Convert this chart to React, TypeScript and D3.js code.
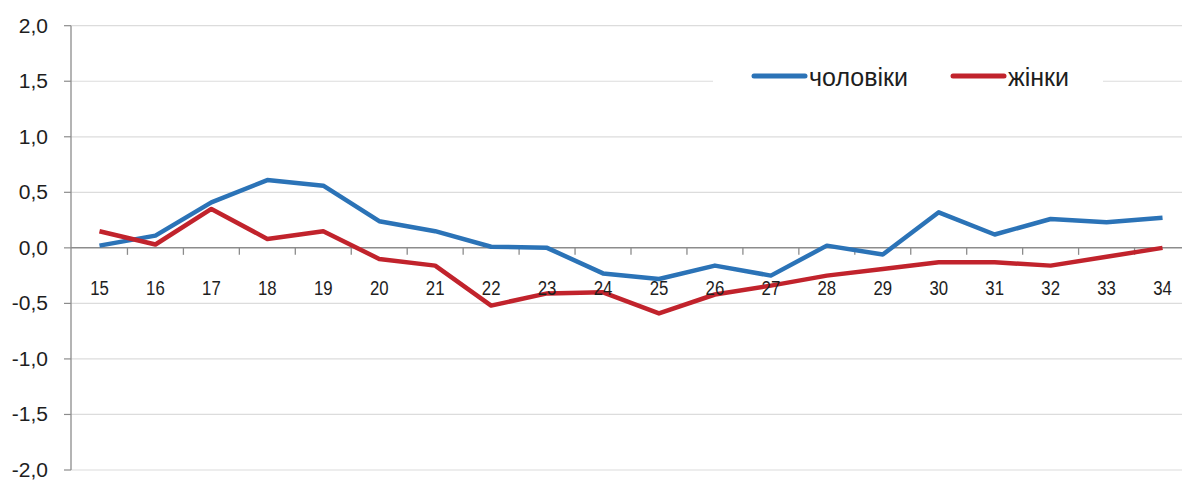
import React from "react";
import * as d3 from "d3";

const categories = ["15","16","17","18","19","20","21","22","23","24","25","26","27","28","29","30","31","32","33","34"];
const men = [0.02,0.11,0.41,0.61,0.56,0.24,0.15,0.01,0.0,-0.23,-0.28,-0.16,-0.25,0.02,-0.06,0.32,0.12,0.26,0.23,0.27];
const women = [0.15,0.03,0.35,0.08,0.15,-0.10,-0.16,-0.52,-0.41,-0.40,-0.59,-0.42,-0.34,-0.25,-0.19,-0.13,-0.13,-0.16,-0.08,0.0];
const yTicks = [2.0,1.5,1.0,0.5,0.0,-0.5,-1.0,-1.5,-2.0];
const seriesNames = ["чоловіки","жінки"];
const colors = ["#2b73b7","#c1232c"];

export default function App() {
  const W = 1182, H = 480;
  const x = d3.scaleBand<string>().domain(categories).range([71.5, 71.5 + 20 * 55.95]).padding(0);
  const y = d3.scaleLinear().domain([-2, 2]).range([470, 25.7]);
  const bw = x.bandwidth();
  const line = d3.line<number>().x((_, i) => (x(categories[i]) as number) + bw / 2).y(d => y(d));
  const fmt = (v: number) => v.toFixed(1).replace(".", ",");
  const legendLeft = 713, legendRight = 1103;
  return (
    <svg width={W} height={H} style={{ position: "absolute", left: 0, top: 0, background: "#fff" }}
      fontFamily="'Liberation Sans', Arial, sans-serif">
      {yTicks.map(t => (
        <g key={t}>
          {t !== 0 && (
            <line x1={71} x2={W} y1={y(t)} y2={y(t)} stroke="#dcdcdc" strokeWidth={1.2} />
          )}
          <line x1={64} x2={71} y1={y(t)} y2={y(t)} stroke="#8c8c8c" strokeWidth={1.2} />
          <text x={0} y={0} dy="0.36em" textAnchor="end" fontSize={21} fill="#1e1e1e"
            transform={`translate(48,${y(t)}) scale(1,0.92)`}>{fmt(t)}</text>
        </g>
      ))}
      <rect x={legendLeft} y={60} width={legendRight - legendLeft} height={40} fill="#fff" />
      <line x1={71} x2={71} y1={y(2)} y2={y(-2)} stroke="#8c8c8c" strokeWidth={1.3} />
      <line x1={71} x2={W} y1={y(0)} y2={y(0)} stroke="#8c8c8c" strokeWidth={1.5} />
      {categories.slice(1).map(c => (
        <line key={"t" + c} x1={x(c) as number} x2={x(c) as number} y1={y(0)} y2={y(0) + 7} stroke="#8c8c8c" strokeWidth={1.3} />
      ))}
      {[men, women].map((s, i) => (
        <path key={i} d={line(s) as string} fill="none" stroke={colors[i]} strokeWidth={4.5} strokeLinejoin="round" />
      ))}
      {categories.map(c => (
        <text key={"l" + c} x={0} y={0} fontSize={21} fill="#1e1e1e" textAnchor="middle"
          transform={`translate(${(x(c) as number) + bw / 2},295) scale(0.8,1)`}>{c}</text>
      ))}
      <line x1={754} x2={805} y1={76} y2={76} stroke={colors[0]} strokeWidth={5} strokeLinecap="round" />
      <text x={809} y={86} fontSize={25} fill="#1e1e1e">{seriesNames[0]}</text>
      <line x1={953} x2={1004} y1={76} y2={76} stroke={colors[1]} strokeWidth={5} strokeLinecap="round" />
      <text x={1008} y={86} fontSize={25} fill="#1e1e1e">{seriesNames[1]}</text>
    </svg>
  );
}
